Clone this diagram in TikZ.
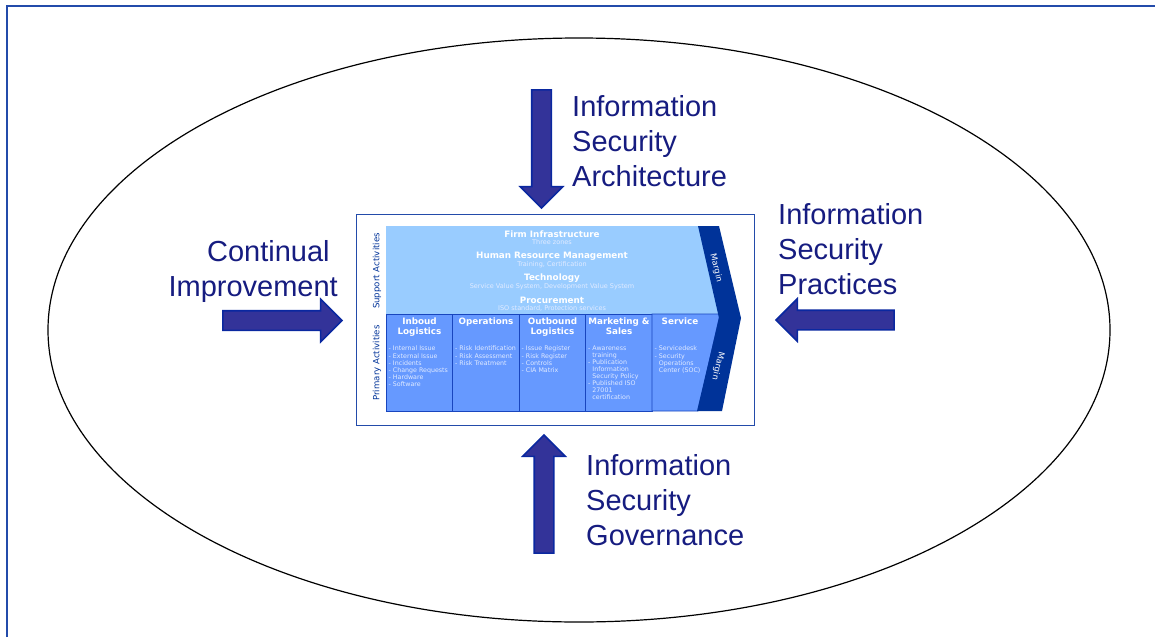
\documentclass[tikz,border=0pt]{standalone}
\usepackage{fontspec}
\setmainfont{Liberation Sans}
\newfontfamily\vfont{DejaVu Sans}
\usetikzlibrary{shapes.arrows,positioning}
\definecolor{navytext}{RGB}{22,28,128}
\definecolor{arrowfill}{RGB}{51,51,153}
\definecolor{arrowline}{RGB}{10,40,160}
\definecolor{framecol}{RGB}{35,75,170}
\definecolor{suppfill}{RGB}{153,204,255}
\definecolor{primfill}{RGB}{102,153,255}
\definecolor{primline}{RGB}{25,70,190}
\definecolor{margincol}{RGB}{0,51,153}
\definecolor{subtext}{RGB}{225,235,255}
\tikzset{
  bigarrow/.style={single arrow,draw=arrowline,fill=arrowfill,line width=1.6pt,
    minimum height=#1,inner xsep=0pt,inner ysep=9pt,single arrow head extend=11.5pt},
  biglabel/.style={font=\fontsize{29}{35}\selectfont,text=navytext,inner sep=0pt},
  acttitle/.style={font=\vfont\bfseries\fontsize{8.8}{10}\selectfont,text=white,align=center,inner sep=0pt},
  actsub/.style={font=\vfont\fontsize{6.5}{7}\selectfont,text=subtext,inner sep=0pt},
  actlist/.style={font=\vfont\fontsize{6.3}{6.9}\selectfont,text=subtext,align=left,inner sep=0pt,anchor=north west},
  sidelabel/.style={font=\vfont\fontsize{8.6}{9}\selectfont,text=margincol,rotate=90,inner sep=0pt},
  marginlabel/.style={font=\vfont\fontsize{8.4}{9}\selectfont,text=white,inner sep=0pt}
}
\newcommand{\itm}{- }
\newcommand{\ind}{\hphantom{- }}
\begin{document}
\begin{tikzpicture}[x=1pt,y=-1pt]
    \useasboundingbox (0,0) rectangle (1155,637);
    \def\cw{66.5}
    % frame and ellipse
    \draw[framecol,line width=2pt] (7,637)--(7,6)--(1155,6);
    \draw[line width=1.2pt] (579,330) ellipse[x radius=531,y radius=292];
    % value chain
    \node[draw=framecol,fill=white,line width=1pt,minimum width=398pt,minimum height=211pt,inner sep=0pt] (chain) at (555,319.5) {};
    \fill[suppfill] (386,226)--(699,226)--(720,314)--(386,314)--cycle;
    \foreach \i in {0,...,3}
        \draw[primline,fill=primfill,line width=0.8pt] (386+\i*\cw,314) rectangle (386+\i*\cw+\cw,411);
    \draw[primline,fill=primfill,line width=0.8pt] (652,314)--(720,314)--(698,411)--(652,411)--cycle;
    \fill[margincol] (698,226)--(719,226)--(741,318)--(722,411)--(697,411)--(719,318)--cycle;
    \node[marginlabel,rotate=-76] (mtop) at (716,268) {Margin};
    \node[marginlabel,rotate=-104] (mbot) at (718,366) {Margin};
    \node[sidelabel] (support) at (377,271) {Support Activities};
    \node[sidelabel] (primary) at (377,363) {Primary Activities};
    % support activities
    \node[acttitle] (firm) at (552,234) {Firm Infrastructure};
    \node[actsub] at (552,242.5) {Three zones};
    \node[acttitle] (hrm) at (552,256) {Human Resource Management};
    \node[actsub] at (552,264.5) {Training, Certification};
    \node[acttitle] (tech) at (552,278) {Technology};
    \node[actsub] at (552,286.5) {Service Value System, Development Value System};
    \node[acttitle] (proc) at (552,300) {Procurement};
    \node[actsub] at (552,308.5) {ISO standard, Protection services};
    % primary activities
    \node[acttitle,anchor=north] (inb) at (419.5,318) {Inboud\\Logistics};
    \node[acttitle,anchor=north] (ops) at (486,318) {Operations};
    \node[acttitle,anchor=north] (outb) at (552.5,318) {Outbound\\Logistics};
    \node[acttitle,anchor=north] (mark) at (619,318) {Marketing \&\\Sales};
    \node[acttitle,anchor=north] (serv) at (680,318) {Service};
    \node[actlist] at (388.5,346) {\itm Internal Issue\\[1pt]\itm External Issue\\\itm Incidents\\\itm Change Requests\\\itm Hardware\\\itm Software};
    \node[actlist] at (455,346) {\itm Risk Identification\\[1pt]\itm Risk Assessment\\\itm Risk Treatment};
    \node[actlist] at (521.5,346) {\itm Issue Register\\[1pt]\itm Risk Register\\\itm Controls\\\itm CIA Matrix};
    \node[actlist] at (588,346) {\itm Awareness\\\ind training\\\itm Publication\\\ind Information\\\ind Security Policy\\\itm Published ISO\\\ind 27001\\\ind certification};
    \node[actlist] at (654.5,346) {\itm Servicedesk\\[1pt]\itm Security\\\ind Operations\\\ind Center (SOC)};
    % arrows
    \node[bigarrow=118pt,rotate=-90] (archarrow) at (541.5,144) {};
    \node[bigarrow=118pt,rotate=90] (govarrow) at (544,499) {};
    \node[bigarrow=119pt] (ciarrow) at (277.5,320.5) {};
    \node[bigarrow=118pt,rotate=180] (practarrow) at (840,320) {};
    % labels
    \node[biglabel,align=left,anchor=north west] (arch) at (572,95) {Information\\Security\\Architecture};
    \node[biglabel,align=left,anchor=north west] (pract) at (778,203) {Information\\Security\\Practices};
    \node[biglabel,align=left,anchor=north west] (gov) at (586,454) {Information\\Security\\Governance};
    \node[biglabel,align=right,anchor=north east] (ci) at (338,240) {Continual\hspace*{0.28em}\\Improvement};
\end{tikzpicture}
\end{document}
